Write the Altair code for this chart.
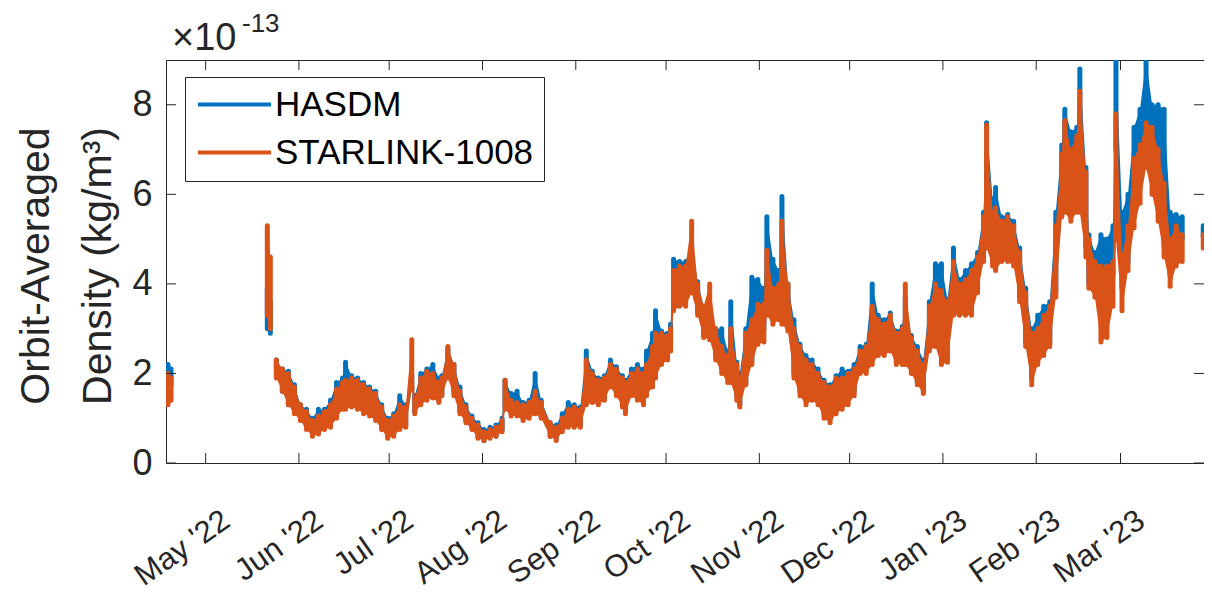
import altair as alt
import pandas as pd

# ---------------- data ----------------
dates = [
    "2022-04-18", "2022-04-19",
    "2022-05-21", "2022-05-22",
    "2022-05-24", "2022-05-26", "2022-05-28", "2022-05-30",
    "2022-06-01", "2022-06-03", "2022-06-05", "2022-06-07", "2022-06-09", "2022-06-11",
    "2022-06-13", "2022-06-15", "2022-06-16", "2022-06-18", "2022-06-20", "2022-06-22",
    "2022-06-24", "2022-06-26", "2022-06-28", "2022-06-30",
    "2022-07-02", "2022-07-04", "2022-07-06", "2022-07-08", "2022-07-09", "2022-07-11",
    "2022-07-13", "2022-07-15", "2022-07-17", "2022-07-18", "2022-07-20", "2022-07-22",
    "2022-07-24", "2022-07-26", "2022-07-28", "2022-07-30",
    "2022-08-01", "2022-08-03", "2022-08-05", "2022-08-07", "2022-08-08", "2022-08-10",
    "2022-08-12", "2022-08-14", "2022-08-16", "2022-08-18", "2022-08-20", "2022-08-23",
    "2022-08-25", "2022-08-27", "2022-08-29", "2022-08-31",
    "2022-09-02", "2022-09-04", "2022-09-06", "2022-09-08", "2022-09-10", "2022-09-12",
    "2022-09-14", "2022-09-16", "2022-09-17", "2022-09-19", "2022-09-21", "2022-09-23",
    "2022-09-24", "2022-09-26", "2022-09-27", "2022-09-29",
    "2022-10-01", "2022-10-02", "2022-10-03", "2022-10-05", "2022-10-07", "2022-10-09",
    "2022-10-11", "2022-10-13", "2022-10-15", "2022-10-17", "2022-10-19", "2022-10-21",
    "2022-10-22", "2022-10-24", "2022-10-25", "2022-10-27", "2022-10-29", "2022-10-31",
    "2022-11-02", "2022-11-03", "2022-11-05", "2022-11-07", "2022-11-08", "2022-11-10",
    "2022-11-12", "2022-11-14", "2022-11-16", "2022-11-18", "2022-11-20", "2022-11-22",
    "2022-11-24", "2022-11-26", "2022-11-28", "2022-11-30",
    "2022-12-02", "2022-12-04", "2022-12-06", "2022-12-08", "2022-12-10", "2022-12-12",
    "2022-12-14", "2022-12-16", "2022-12-18", "2022-12-19", "2022-12-21", "2022-12-23",
    "2022-12-25", "2022-12-27", "2022-12-29", "2022-12-31",
    "2023-01-02", "2023-01-04", "2023-01-06", "2023-01-08", "2023-01-10", "2023-01-12",
    "2023-01-14", "2023-01-15", "2023-01-17", "2023-01-18", "2023-01-20", "2023-01-22",
    "2023-01-24", "2023-01-26", "2023-01-28", "2023-01-30",
    "2023-02-01", "2023-02-03", "2023-02-05", "2023-02-07", "2023-02-09", "2023-02-10",
    "2023-02-12", "2023-02-14", "2023-02-15", "2023-02-17", "2023-02-18", "2023-02-20",
    "2023-02-22", "2023-02-24", "2023-02-26", "2023-02-27",
    "2023-03-01", "2023-03-03", "2023-03-05", "2023-03-07", "2023-03-09", "2023-03-11",
    "2023-03-13", "2023-03-15", "2023-03-17", "2023-03-19", "2023-03-21",
    "2023-03-28", "2023-03-29",
]

# first date of every continuous stretch of data
segment_starts = ["2022-04-18", "2022-05-21", "2022-05-24", "2023-03-28"]

starlink_lo = [
    1.3, 1.4,
    3.3, 3.0,
    1.9, 1.6, 1.3, 1.1,
    0.95, 0.75, 0.6, 0.65, 0.75, 0.8,
    1.0, 1.2, 1.2, 1.25, 1.2, 1.1,
    1.05, 0.95, 0.75, 0.55,
    0.6, 0.75, 0.8, 1.65, 1.1, 1.3,
    1.4, 1.45, 1.35, 1.5, 1.9, 1.5,
    1.1, 0.9, 0.75, 0.55,
    0.5, 0.55, 0.6, 0.7, 1.2, 1.05,
    1.05, 0.95, 1.0, 1.1, 1.0, 0.6,
    0.5, 0.7, 0.8, 0.8,
    0.8, 1.3, 1.35, 1.3, 1.4, 1.7,
    1.5, 1.25, 1.1, 1.5, 1.4, 1.3,
    1.5, 1.7, 1.9, 2.2,
    2.3, 2.5, 3.4, 3.5, 3.5, 3.8,
    3.3, 2.8, 2.75, 2.3, 2.0, 1.8,
    1.8, 1.4, 1.25, 1.75, 2.2, 2.65,
    2.7, 3.3, 3.1, 3.2, 3.1, 2.95,
    1.9, 1.5, 1.3, 1.4, 1.3, 1.0,
    0.9, 1.1, 1.2, 1.3,
    1.5, 2.0, 2.0, 2.2, 2.4, 2.4,
    2.5, 2.2, 2.2, 2.2, 2.0, 1.75,
    1.55, 2.5, 2.6, 2.2,
    2.25, 3.3, 3.3, 3.3, 3.3, 3.8,
    4.5, 4.8, 4.4, 4.3, 4.5, 4.5,
    4.4, 3.6, 2.6, 1.75,
    2.2, 2.4, 2.6, 3.7, 5.5, 5.6,
    5.4, 5.6, 5.6, 4.6, 3.9, 3.7,
    2.7, 2.8, 3.5, 5.0,
    3.4, 4.3, 5.25, 5.8, 6.6, 6.0,
    5.4, 4.6, 3.95, 4.4, 4.5,
    4.8, 4.8,
]
starlink_hi = [
    2.0, 1.9,
    5.3, 4.6,
    2.3, 2.1, 2.0, 1.7,
    1.3, 1.15, 0.95, 1.05, 1.15, 1.3,
    1.65, 1.8, 1.85, 1.9, 1.85, 1.75,
    1.65, 1.55, 1.25, 0.95,
    1.05, 1.3, 1.25, 2.75, 1.45, 1.9,
    2.05, 2.0, 1.8, 1.9, 2.6, 2.2,
    1.6, 1.25, 1.0, 0.85,
    0.7, 0.75, 0.8, 0.95, 1.85, 1.4,
    1.35, 1.3, 1.35, 1.6, 1.35, 0.9,
    0.8, 1.0, 1.2, 1.25,
    1.2, 2.3, 2.0, 1.85, 1.9, 2.2,
    2.1, 1.9, 1.8, 2.0, 2.1, 2.0,
    2.2, 2.6, 2.9, 2.9,
    2.85, 3.0, 4.3, 4.4, 4.4, 5.4,
    4.0, 3.5, 4.0, 3.0, 2.6, 2.4,
    3.0, 2.2, 1.9, 2.9, 3.2, 3.55,
    3.55, 4.75, 3.9, 4.0, 5.4, 4.0,
    3.0, 2.6, 2.3, 2.2, 2.0, 1.8,
    1.7, 1.9, 1.9, 2.0,
    2.1, 2.5, 2.6, 3.5, 3.2, 3.1,
    3.3, 2.9, 3.0, 4.0, 2.8, 2.5,
    2.2, 3.5, 4.0, 3.85,
    3.6, 4.5, 4.0, 4.1, 4.3, 4.6,
    5.5, 7.55, 5.6, 5.7, 5.4, 5.5,
    5.3, 4.7, 3.8, 2.9,
    3.0, 3.3, 3.5, 5.3, 6.9, 7.65,
    7.0, 7.3, 8.3, 6.5, 5.0, 4.5,
    4.4, 4.4, 4.5, 7.8,
    4.65, 5.3, 6.8, 7.1, 7.6, 7.5,
    7.0, 6.25, 5.0, 5.3, 5.1,
    5.1, 5.1,
]
hasdm_lo = [
    1.8, 1.75,
    3.0, 2.9,
    2.0, 1.6, 1.3, 1.15,
    1.0, 0.8, 0.65, 0.7, 0.8, 0.85,
    1.1, 1.3, 1.4, 1.4, 1.3, 1.2,
    1.1, 1.0, 0.8, 0.6,
    0.65, 0.8, 0.85, 1.65, 1.15, 1.4,
    1.5, 1.5, 1.4, 1.55, 2.0, 1.6,
    1.15, 0.95, 0.8, 0.6,
    0.5, 0.6, 0.6, 0.75, 1.25, 1.1,
    1.1, 1.0, 1.05, 1.3, 1.05, 0.6,
    0.55, 0.75, 0.85, 0.85,
    0.85, 1.4, 1.4, 1.35, 1.45, 1.75,
    1.55, 1.3, 1.2, 1.55, 1.5, 1.4,
    1.6, 1.8, 2.0, 2.3,
    2.35, 2.6, 3.5, 3.6, 3.6, 4.0,
    3.4, 2.85, 2.8, 2.4, 2.1, 1.9,
    1.9, 1.5, 1.3, 1.8, 2.3, 2.9,
    3.0, 3.5, 3.4, 3.4, 3.3, 3.0,
    2.0, 1.6, 1.4, 1.5, 1.4, 1.1,
    1.0, 1.2, 1.3, 1.4,
    1.6, 2.1, 2.1, 2.3, 2.5, 2.5,
    2.6, 2.3, 2.3, 2.3, 2.1, 1.8,
    1.6, 2.6, 2.7, 2.4,
    2.4, 3.4, 3.4, 3.4, 3.4, 3.9,
    4.6, 5.0, 4.5, 4.4, 4.6, 4.6,
    4.5, 3.7, 2.7, 1.9,
    2.3, 2.5, 2.7, 3.8, 5.6, 5.7,
    5.5, 5.7, 5.7, 4.8, 4.0, 3.9,
    4.0, 4.2, 4.2, 7.0,
    3.9, 4.5, 5.5, 6.2, 7.6, 6.5,
    5.9, 4.8, 4.2, 4.9, 5.0,
    5.05, 5.05,
]
hasdm_hi = [
    2.2, 2.1,
    3.9, 3.6,
    2.3, 2.1, 2.05, 1.75,
    1.3, 1.2, 1.0, 1.2, 1.2, 1.4,
    1.8, 1.9, 2.25, 1.95, 1.9, 1.8,
    1.7, 1.6, 1.3, 1.0,
    1.1, 1.5, 1.3, 1.95, 1.5, 2.0,
    2.1, 2.2, 1.9, 1.95, 2.55, 2.2,
    1.7, 1.3, 1.05, 0.9,
    0.75, 0.8, 0.85, 1.0, 1.85, 1.55,
    1.6, 1.35, 1.4, 2.0, 1.4, 0.9,
    0.85, 1.1, 1.35, 1.3,
    1.25, 2.5, 2.05, 1.9, 1.95, 2.3,
    2.15, 1.95, 1.85, 2.1, 2.2, 2.1,
    2.5, 2.9, 3.4, 2.95,
    2.9, 3.1, 4.55, 4.5, 4.5, 4.9,
    4.05, 3.5, 3.4, 3.0, 3.0, 2.5,
    3.6, 2.25, 2.0, 3.0, 4.15, 4.1,
    3.9, 5.5, 4.55, 4.3, 5.95, 4.0,
    3.2, 2.65, 2.4, 2.3, 2.1, 1.85,
    1.75, 1.95, 2.1, 2.05,
    2.2, 2.6, 2.65, 4.0, 3.3, 3.2,
    3.35, 2.95, 3.05, 3.7, 2.85, 2.6,
    2.3, 3.6, 4.45, 4.45,
    3.65, 4.8, 4.1, 4.3, 4.45, 4.7,
    5.6, 7.6, 5.9, 6.15, 5.5, 5.55,
    5.4, 4.8, 3.9, 3.0,
    3.3, 3.5, 3.6, 5.6, 7.1, 7.9,
    7.4, 7.5, 8.8, 6.6, 5.1, 4.7,
    5.1, 5.0, 5.3, 9.0,
    5.6, 6.0, 7.5, 7.9, 9.0, 8.0,
    8.0, 7.9, 5.6, 5.55, 5.5,
    5.3, 5.3,
]

series_names = ["HASDM", "STARLINK-1008"]
series_colors = ["#0072BD", "#D95319"]

month_ticks = [
    "2022-05-01", "2022-06-01", "2022-07-01", "2022-08-01", "2022-09-01",
    "2022-10-01", "2022-11-01", "2022-12-01", "2023-01-01", "2023-02-01",
    "2023-03-01",
]
y_ticks = [0, 2, 4, 6, 8]

# ---------------- tables ----------------
seg_ids = []
current = -1
for d in dates:
    if d in segment_starts:
        current += 1
    seg_ids.append(current)


def series_frame(name, lo, hi):
    return pd.DataFrame({
        "date": [d + "T12:00:00" for d in dates],
        "lo": lo,
        "hi": hi,
        "seg": seg_ids,
        "series": name,
    })


hasdm_df = series_frame(series_names[0], hasdm_lo, hasdm_hi)
star_df = series_frame(series_names[1], starlink_lo, starlink_hi)
tick_df = pd.DataFrame({"d": [m + "T00:00:00" for m in month_ticks]})
ytick_df = pd.DataFrame({"v": y_ticks})

W, H = 1038, 403
FONT = "Liberation Sans"
AXC = "#262626"

xscale = alt.Scale(domain=[alt.DateTime(year=2022, month=4, date=17, hours=20),
                           alt.DateTime(year=2023, month=3, date=28, hours=18)])
yscale = alt.Scale(domain=[0, 9], nice=False, zero=False)
cscale = alt.Scale(domain=series_names, range=series_colors)

# legend line sample: a horizontal path 5 units long (73 px with the size below)
legend = alt.Legend(
    title=None, orient="none", legendX=19, legendY=17,
    symbolType="M-2.5,0H2.5", symbolSize=853, symbolStrokeWidth=4,
    symbolOffset=22, labelOffset=23,
    labelFontSize=35, labelFont=FONT, labelColor="black",
    labelLimit=500, padding=10, rowPadding=12,
    strokeColor=AXC, fillColor="white",
)

x_axis = alt.Axis(
    values=[alt.DateTime(year=int(m[:4]), month=int(m[5:7]), date=1) for m in month_ticks],
    format="%b '%y", labelAngle=325, labelAlign="right", labelBaseline="top",
    labelFontSize=31, labelFont=FONT, labelColor=AXC, labelPadding=42, labelOffset=12,
    labelOverlap=False, labelFlush=False, ticks=False, tickSize=0, domain=False,
    grid=False, title=None,
)
y_axis = alt.Axis(
    values=y_ticks, labelFontSize=36, labelFont=FONT, labelColor=AXC, labelPadding=14,
    ticks=False, tickSize=0, domain=False, grid=False,
    title=["Orbit-Averaged", "Density (kg/m³)"], titleFontSize=41, titleFont=FONT,
    titleColor=AXC, titleFontWeight="normal", titleLineHeight=62,
    titleAngle=270, titleAlign="center", titleBaseline="top",
    titleX=-150, titleY=H / 2 + 4,
)


def xenc(field):
    return alt.X(field, scale=xscale, axis=x_axis)


def yenc(field):
    return alt.Y(field, scale=yscale, axis=y_axis)


def band_layers(df, color):
    base = alt.Chart(df)
    area = base.mark_area(opacity=1, clip=True, color=color).encode(
        x=xenc("date:T"), y=yenc("lo:Q"), y2="hi:Q", detail="seg:N",
    )
    rule = base.mark_rule(strokeWidth=5, strokeCap="round", clip=True).encode(
        x=xenc("date:T"), y=yenc("lo:Q"), y2="hi:Q",
        color=alt.Color("series:N", scale=cscale, legend=legend),
    )
    return [area, rule]


tick_style = dict(color=AXC, strokeWidth=1)
xt = alt.Chart(tick_df)
xticks_bottom = xt.mark_rule(**tick_style).encode(
    x=xenc("d:T"), y=alt.value(H), y2=alt.value(H - 10))
xticks_top = xt.mark_rule(**tick_style).encode(
    x=xenc("d:T"), y=alt.value(0), y2=alt.value(10))
yt = alt.Chart(ytick_df)
yticks_left = yt.mark_rule(**tick_style).encode(
    y=yenc("v:Q"), x=alt.value(0), x2=alt.value(10))
yticks_right = yt.mark_rule(**tick_style).encode(
    y=yenc("v:Q"), x=alt.value(W), x2=alt.value(W - 10))

exp_base = alt.Chart(pd.DataFrame({"t": ["×10"]})).mark_text(
    align="left", baseline="alphabetic", fontSize=38, font=FONT, color=AXC
).encode(text="t:N", x=alt.value(6), y=alt.value(-10))
exp_pow = alt.Chart(pd.DataFrame({"t": ["-13"]})).mark_text(
    align="left", baseline="alphabetic", fontSize=26, font=FONT, color=AXC
).encode(text="t:N", x=alt.value(76), y=alt.value(-28))

layers = (band_layers(hasdm_df, series_colors[0]) + band_layers(star_df, series_colors[1])
          + [xticks_bottom, xticks_top, yticks_left, yticks_right, exp_base, exp_pow])

chart = alt.layer(*layers).properties(
    width=W, height=H,
    autosize=alt.AutoSizeParams(type="none"),
    padding={"left": 158, "top": 52, "right": 0, "bottom": 131},
    background="white",
).configure_view(stroke=AXC, strokeWidth=1)

chart.save("out.html", embed_options={"renderer": "svg", "actions": False})
